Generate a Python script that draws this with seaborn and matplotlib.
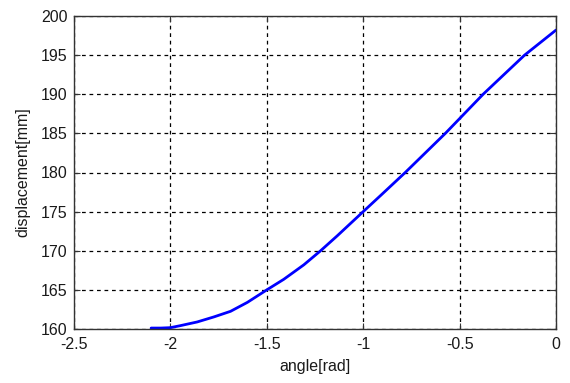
import matplotlib
matplotlib.use("Agg")
import matplotlib.pyplot as plt
import seaborn as sns
import pandas as pd

angle = [-2.10, -2.05, -2.00, -1.948, -1.861, -1.775, -1.688, -1.601, -1.50, -1.412,
         -1.308, -1.221, -1.135, -1.00, -0.908, -0.782, -0.574, -0.378, -0.163, 0.0]
displacement = [160.12, 160.12, 160.17, 160.43, 160.9, 161.54, 162.26, 163.4, 165.0, 166.35,
                168.2, 170.0, 171.9, 175.0, 177.1, 180.0, 185.0, 190.0, 195.0, 198.2]

xticks = [-2.5, -2, -1.5, -1, -0.5, 0]
xticklabels = ["-2.5", "-2", "-1.5", "-1", "-0.5", "0"]
yticks = [160, 165, 170, 175, 180, 185, 190, 195, 200]

sns.set_style("white")
plt.rcParams['font.family'] = ['Liberation Sans', 'DejaVu Sans']

df = pd.DataFrame({"angle": angle, "disp": displacement})

fig = plt.figure(figsize=(5.70, 3.83), dpi=100)
ax = fig.add_axes([74/570, 1-329/383, (556-74)/570, (329-16)/383])
sns.lineplot(data=df, x="angle", y="disp", ax=ax, color="#0000ff", linewidth=2.0)

ax.set_xlim(-2.5, 0)
ax.set_ylim(160, 200)
ax.set_xticks(xticks)
ax.set_xticklabels(xticklabels)
ax.set_yticks(yticks)
ax.grid(True, color="black", linestyle=(0, (3, 3)), linewidth=0.9)
ax.tick_params(direction="in", length=4, width=0.8, colors="#333333",
               labelcolor="#1a1a1a", labelsize=11.5, top=True, right=True,
               bottom=True, left=True)
ax.tick_params(axis="x", pad=6)
ax.tick_params(axis="y", pad=4.5)
for s in ax.spines.values():
    s.set_color("#333333")
    s.set_linewidth(1.0)
ax.set_xlabel("angle[rad]", fontsize=11.5, color="#1a1a1a", labelpad=5)
ax.set_ylabel("displacement[mm]", fontsize=11.5, color="#1a1a1a", labelpad=8)

fig.savefig("out.png", dpi=100)
